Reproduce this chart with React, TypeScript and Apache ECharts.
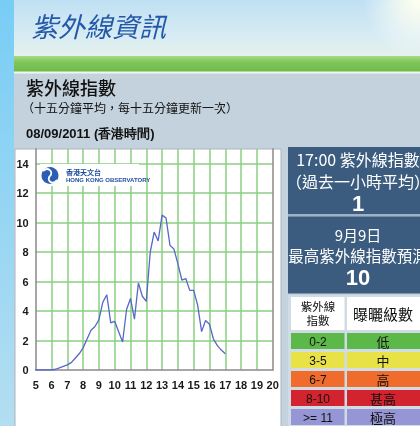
import React, { useEffect, useRef } from "react";
import * as echarts from "echarts";

// ---- data ----
const times = [
  "05:00", "05:15", "05:30", "05:45", "06:00", "06:15", "06:30", "06:45",
  "07:00", "07:15", "07:30", "07:45", "08:00", "08:15", "08:30", "08:45",
  "09:00", "09:15", "09:30", "09:45", "10:00", "10:15", "10:30", "10:45",
  "11:00", "11:15", "11:30", "11:45", "12:00", "12:15", "12:30", "12:45",
  "13:00", "13:15", "13:30", "13:45", "14:00", "14:15", "14:30", "14:45",
  "15:00", "15:15", "15:30", "15:45", "16:00", "16:15", "16:30", "16:45",
  "17:00",
];
const uvIndex = [
  0, 0, 0, 0, 0, 0.05, 0.15, 0.25,
  0.35, 0.5, 0.8, 1.1, 1.5, 2.1, 2.7, 2.95,
  3.4, 4.6, 5.1, 3.2, 3.3, 2.6, 1.9, 4.1,
  4.85, 3.45, 5.9, 5.0, 4.65, 8.0, 9.35, 8.75,
  10.5, 10.3, 8.45, 8.2, 7.2, 6.1, 6.2, 5.4,
  5.4, 4.4, 2.6, 3.35, 3.1, 2.1, 1.65, 1.35,
  1.1,
];
const xTickLabels = [5, 6, 7, 8, 9, 10, 11, 12, 13, 14, 15, 16, 17, 18, 19, 20];
const yTickLabels = [0, 2, 4, 6, 8, 10, 12, 14];
const yAxisTop = 15;

const pageTitle = "紫外線資訊";
const sectionTitle = "紫外線指數";
const sectionNote = "（十五分鐘平均，每十五分鐘更新一次）";
const dateLine = "08/09/2011 (香港時間)";
const latestLabel = "17:00 紫外線指數";
const latestNote = "（過去一小時平均）";
const latestValue = "1";
const forecastDate = "9月9日";
const forecastLabel = "最高紫外線指數預測";
const forecastValue = "10";
const tableHeadA = ["紫外線", "指數"];
const tableHeadB = "曝曬級數";
const levelRanges = ["0-2", "3-5", "6-7", "8-10", ">= 11"];
const levelNames = ["低", "中", "高", "甚高", "極高"];
const levelColors = ["#5cb848", "#e8e246", "#f06c2c", "#d3232f", "#9696d6"];

const CJK = '"Noto Sans CJK TC", "Noto Sans CJK SC", sans-serif';
const LAT = '"Liberation Sans", Arial, sans-serif';

function txt(text: string, x: number, y: number, font: string, fill: string, align = "left", z = 50) {
  return {
    type: "text",
    x,
    y,
    z,
    silent: true,
    style: {
      text,
      font,
      fill,
      textAlign: align,
      textVerticalAlign: "middle",
      align,
      verticalAlign: "middle",
    },
  };
}

function rect(x: number, y: number, w: number, h: number, style: any, z = -10) {
  return { type: "rect", z, silent: true, shape: { x, y, width: w, height: h }, style };
}

export default function App() {
  const ref = useRef<HTMLDivElement>(null);

  useEffect(() => {
    if (!ref.current) return;
    const chart = echarts.init(ref.current, undefined, { renderer: "svg" });

    const toHour = (t: string) => {
      const [h, m] = t.split(":").map(Number);
      return h + m / 60;
    };
    const seriesData = times.map((t, i) => [toHour(t), uvIndex[i]]);

    const elements: any[] = [];
    // page background
    elements.push(rect(0, 0, 420, 426, { fill: "#c3d2dc" }, -30));
    // left strip
    elements.push(
      rect(0, 0, 14, 426, {
        fill: {
          type: "linear", x: 0, y: 0, x2: 0, y2: 1,
          colorStops: [
            { offset: 0, color: "#78cdf5" },
            { offset: 1, color: "#b4def1" },
          ],
        },
      }, -29)
    );
    // header sky
    elements.push(
      rect(14, 0, 406, 57, {
        fill: {
          type: "linear", x: 0, y: 0, x2: 0, y2: 1,
          colorStops: [
            { offset: 0, color: "#bfe0f3" },
            { offset: 0.6, color: "#d6ebf3" },
            { offset: 1, color: "#e6f2ec" },
          ],
        },
      }, -28)
    );
    elements.push({
      type: "circle", z: -27, silent: true,
      shape: { cx: 418, cy: 2, r: 55 },
      style: {
        fill: {
          type: "radial", x: 0.5, y: 0.5, r: 0.5,
          colorStops: [
            { offset: 0, color: "rgba(255,255,240,1)" },
            { offset: 0.35, color: "rgba(255,255,240,0.7)" },
            { offset: 1, color: "rgba(255,255,255,0)" },
          ],
        },
      },
    });
    // green band
    elements.push(
      rect(14, 56, 406, 16, {
        fill: {
          type: "linear", x: 0, y: 0, x2: 0, y2: 1,
          colorStops: [
            { offset: 0, color: "#a9d985" },
            { offset: 0.4, color: "#7fc55a" },
            { offset: 1, color: "#6cbb48" },
          ],
        },
      }, -26)
    );
    elements.push(rect(14, 71.5, 406, 2, { fill: "#f3f7f2" }, -25));
    // chart white box
    elements.push(rect(15, 149, 266, 280, { fill: "#ffffff", stroke: "#a9b6bf", lineWidth: 1 }, -24));

    // titles
    elements.push(txt(pageTitle, 31, 25, "italic 27px " + CJK, "#2458a8"));
    elements.push(txt(sectionTitle, 26, 87, "500 18px " + CJK, "#111111"));
    elements.push(txt(sectionNote, 22, 107.5, "12px " + CJK, "#111111"));
    elements.push(txt(dateLine, 26, 133, "bold 13px " + LAT, "#111111"));

    // logo
    elements.push(rect(40, 164, 99, 22, { fill: "#ffffff" }, 40));
    elements.push({
      type: "circle", z: 45, silent: true,
      shape: { cx: 50, cy: 175.5, r: 8.5 },
      style: { fill: "#2a5fb2" },
    });
    elements.push({
      type: "bezierCurve", z: 46, silent: true,
      shape: { x1: 43, y1: 171, cpx1: 48, cpy1: 166, cpx2: 54, cpy2: 172, x2: 50, y2: 176 },
      style: { stroke: "#ffffff", lineWidth: 1.8, fill: "none" },
    });
    elements.push({
      type: "bezierCurve", z: 46, silent: true,
      shape: { x1: 50, y1: 176, cpx1: 46, cpy1: 180, cpx2: 52, cpy2: 186, x2: 57, y2: 180 },
      style: { stroke: "#ffffff", lineWidth: 1.8, fill: "none" },
    });
    elements.push(txt("香港天文台", 66, 171.5, "bold 7px " + CJK, "#1d4e9c"));
    elements.push(txt("HONG KONG OBSERVATORY", 66, 179.5, "bold 6px " + LAT, "#1d4e9c"));

    // right panel boxes
    elements.push(rect(288, 147, 132, 67, { fill: "#3b5c7e" }, 40));
    elements.push(rect(288, 214, 132, 2.5, { fill: "#9fb2c3" }, 40));
    elements.push(rect(288, 216.5, 132, 77, { fill: "#3b5c7e" }, 40));
    const cx = 358;
    elements.push(txt(latestLabel, cx, 159, "16px " + CJK, "#ffffff", "center"));
    elements.push(txt(latestNote, cx, 181, "16px " + CJK, "#ffffff", "center"));
    elements.push(txt(latestValue, cx, 203.5, "bold 22px " + LAT, "#ffffff", "center"));
    elements.push(txt(forecastDate, cx, 234.5, "15px " + CJK, "#ffffff", "center"));
    elements.push(txt(forecastLabel, cx, 254.5, "15.5px " + CJK, "#ffffff", "center"));
    elements.push(txt(forecastValue, cx, 277, "bold 22px " + LAT, "#ffffff", "center"));

    // table
    elements.push(rect(288, 295, 132, 131, { fill: "#cfdbe5" }, 40));
    elements.push(rect(291, 297, 53.5, 33, { fill: "#ffffff" }, 41));
    elements.push(rect(347, 297, 73, 33, { fill: "#ffffff" }, 41));
    elements.push(txt(tableHeadA[0], 318, 305.5, "11.5px " + CJK, "#111111", "center"));
    elements.push(txt(tableHeadA[1], 318, 320, "11.5px " + CJK, "#111111", "center"));
    elements.push(txt(tableHeadB, 383, 313, "15px " + CJK, "#111111", "center"));
    levelRanges.forEach((r, i) => {
      const top = 333 + i * 19;
      elements.push(rect(291, top, 53.5, 16, { fill: levelColors[i] }, 41));
      elements.push(rect(347, top, 73, 16, { fill: levelColors[i] }, 41));
      elements.push(txt(r, 318, top + 8.5, "12px " + LAT, "#111111", "center"));
      elements.push(txt(levelNames[i], 383, top + 8.5, "13px " + CJK, "#111111", "center"));
    });

    const axisLineStyle = { color: "#8a8a8a", width: 1.5 };
    const gridLineStyle = { color: "#88d181", width: 1.5 };

    chart.setOption({
      animation: false,
      backgroundColor: "transparent",
      graphic: { elements },
      grid: { left: 35.7, right: 147.3, top: 148.75, bottom: 56, containLabel: false },
      xAxis: {
        type: "value",
        min: xTickLabels[0],
        max: xTickLabels[xTickLabels.length - 1],
        interval: 1,
        axisLine: { show: true, lineStyle: axisLineStyle, onZero: false },
        axisTick: { show: false },
        axisLabel: { color: "#1a1a1a", fontSize: 11, fontWeight: "bold", fontFamily: LAT, margin: 9 },
        splitLine: { show: true, lineStyle: gridLineStyle, showMinLine: false, showMaxLine: false },
      },
      yAxis: [
        {
          type: "value",
          min: yTickLabels[0],
          max: yAxisTop,
          interval: 2,
          axisLine: { show: true, lineStyle: axisLineStyle },
          axisTick: { show: false },
          axisLabel: {
            color: "#1a1a1a", fontSize: 11, fontWeight: "bold", fontFamily: LAT, margin: 7,
            showMaxLabel: false,
            formatter: (v: number) => (yTickLabels.includes(v) ? String(v) : ""),
          },
          splitLine: { show: true, lineStyle: gridLineStyle, showMinLine: false, showMaxLine: false },
        },
        {
          type: "value",
          position: "right",
          min: yTickLabels[0],
          max: yAxisTop,
          interval: 2,
          axisLine: { show: true, lineStyle: axisLineStyle },
          axisTick: { show: false },
          axisLabel: { show: false },
          splitLine: { show: false },
        },
      ],
      series: [
        {
          type: "line",
          data: seriesData,
          yAxisIndex: 0,
          showSymbol: false,
          smooth: false,
          z: 5,
          lineStyle: { color: "#5867c8", width: 1.3 },
        },
      ],
    });

    return () => chart.dispose();
  }, []);

  return (
    <div
      ref={ref}
      style={{ position: "fixed", left: 0, top: 0, width: 420, height: 426 }}
    />
  );
}
